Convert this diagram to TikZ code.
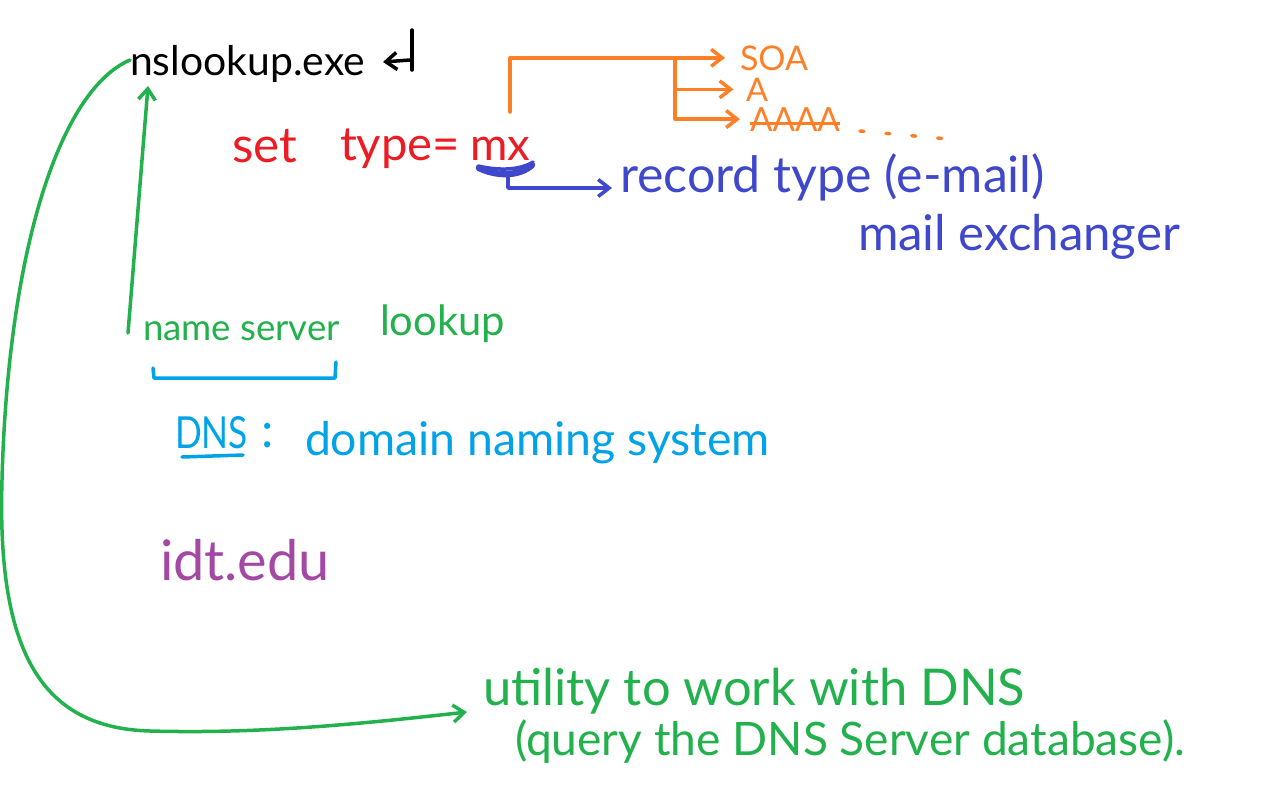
\documentclass[tikz,border=0pt]{standalone}
\usepackage{fontspec}
\setmainfont{Lato}
\usepackage{graphicx}
\usetikzlibrary{arrows.meta,calc}
\definecolor{hred}{HTML}{ED1C24}
\definecolor{horange}{HTML}{FF7F27}
\definecolor{hblue}{HTML}{3F48CC}
\definecolor{hgreen}{HTML}{22B14C}
\definecolor{hcyan}{HTML}{00A2E8}
\definecolor{hpurple}{HTML}{A349A4}
\newcommand{\hw}[2]{\resizebox{#1cm}{!}{#2}}
\begin{document}
\begin{tikzpicture}[x=0.02cm,y=-0.02cm,
  txt/.style={inner sep=0pt, outer sep=0pt, anchor=base west},
  pen/.style={line width=0.07cm, line cap=round, line join=round},
  arr/.style={pen,-{Straight Barb[length=0.22cm,width=0.34cm]}}]
\fill[white] (0,0) rectangle (1272,805);
\useasboundingbox (0,0) rectangle (1272,805);

% texts
\node[txt] (nsl) at (130,75) {\hw{4.7}{nslookup.exe}};
\node[txt,text=hred] (set) at (232,162) {\hw{1.3}{set}};
\node[txt,text=hred] (type) at (340,160) {\hw{2.4}{type=}};
\node[txt,text=hred] (mx) at (470,160) {\hw{1.2}{mx}};
\node[txt,text=horange] (soa) at (740,70) {\hw{1.36}{SOA}};
\node[txt,text=horange] (a) at (746,101) {\hw{0.44}{A}};
\node[txt,text=horange] (aaaa) at (750,131) {\hw{1.8}{AAAA}};
\node[txt,text=hblue] (rec) at (620,192) {\hw{8.5}{record type (e-mail)}};
\node[txt,text=hblue] (mex) at (858,250) {\hw{6.44}{mail exchanger}};
\node[txt,text=hgreen] (ns) at (143,340) {\hw{3.94}{name server}};
\node[txt,text=hgreen] (look) at (380,335) {\hw{2.5}{lookup}};
\node[txt,text=hcyan] (dns) at (175,448) {\resizebox{1.46cm}{0.64cm}{DNS}};
\node[txt,text=hcyan,font=\fontsize{28}{30}\selectfont] (colon) at (261,447) {:};
\node[txt,text=hcyan] (dom) at (305,455) {\hw{9.3}{domain naming system}};
\node[txt,text=hpurple] (idt) at (160,580) {\hw{3.4}{idt.edu}};
\node[txt,text=hgreen] (util) at (483,705) {\hw{10.84}{utility to work with DNS}};
\node[txt,text=hgreen] (query) at (515,755) {\hw{13.4}{(query the DNS Server database).}};

% enter symbol
\draw[pen] (412,30) -- (412,70);
\draw[arr] (410,60) -- (383,62);

% orange record types
\coordinate (ostart) at (510,112);
\draw[arr,horange] (ostart) |- ([xshift=-0.3cm]soa.west);
\path (ostart |- soa.west) ++(165,0) coordinate (obr);
\draw[arr,horange] (obr) |- ([xshift=-0.25cm]a.west);
\draw[arr,horange] (obr) |- ([xshift=-0.2cm]aaaa.west);
\draw[horange,line width=0.045cm] ([yshift=0.15cm]aaaa.base west) -- ([yshift=0.15cm]aaaa.base east);
\draw[horange,pen,dash pattern=on 0.08cm off 0.44cm] ([xshift=0.4cm]aaaa.base east) -- ++(88,8);

% blue brace under mx
\draw[hblue,line width=0.13cm,line cap=round] (479,168) .. controls (498,177) and (520,176) .. (532,165);
\draw[hblue,pen] (478,166) .. controls (500,171) and (520,170) .. (533,162);
\coordinate (bstem) at (508,176);
\draw[arr,hblue] (bstem) |- ([xshift=-0.16cm,yshift=0.08cm]rec.base west);

% green connectors
\draw[arr,hgreen] ([xshift=-0.3cm,yshift=0.14cm]ns.base west) -- ([xshift=0.36cm,yshift=-0.22cm]nsl.base west);
\draw[arr,hgreen] ([yshift=0.3cm]nsl.base west) .. controls (60,90) and (8,250) .. (2,480)
  .. controls (-3,650) and (40,728) .. (150,731)
  .. controls (260,734) and (360,724) .. ([xshift=-0.32cm,yshift=-0.14cm]util.base west);

% cyan bracket and underline
\draw[pen,hcyan] (153,368) -- (154,378) -- (335,378) -- (336,362);
\draw[pen,hcyan] (182,457) -- (243,455);
\end{tikzpicture}
\end{document}
